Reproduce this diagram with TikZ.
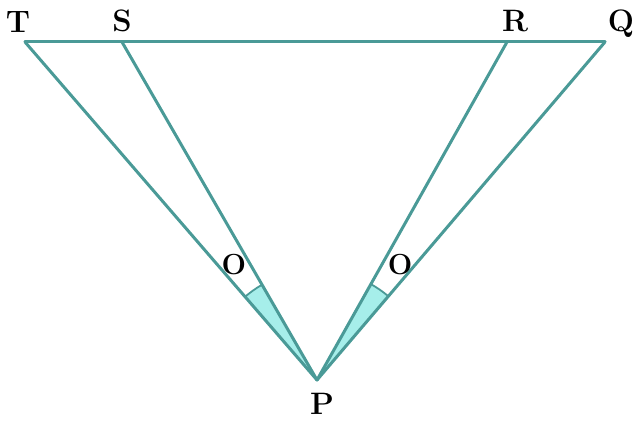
\documentclass[tikz,border=0pt]{standalone}
\usetikzlibrary{calc}
\begin{document}
\begin{tikzpicture}[x=1pt,y=-1pt,
  seg/.style={draw=linecol,line width=3pt,line cap=round},
  lab/.style={font=\bfseries\fontsize{31}{31}\selectfont,text=black,inner sep=0pt},
  olab/.style={font=\bfseries\fontsize{29}{29}\selectfont,text=black,inner sep=0pt},
  anglemark/.style={draw=linecol,line width=1.8pt}]
\definecolor{linecol}{HTML}{4A9A97}
\definecolor{fillcol}{HTML}{A6EEEA}
\useasboundingbox (0,0) rectangle (635,425);
\coordinate (P) at (317,380);
\coordinate (T) at (25,42);
\coordinate (S) at (122,42);
\coordinate (R) at (507,42);
\coordinate (Q) at (605,42);
% angle sectors
\fill[fillcol] (P) -- ($(P)+(229.2:110)$) arc[start angle=229.2,end angle=240,radius=110] -- cycle;
\fill[fillcol] (P) -- ($(P)+(299.3:110)$) arc[start angle=299.3,end angle=310.4,radius=110] -- cycle;
\draw[anglemark] ($(P)+(229.2:110)$) arc[start angle=229.2,end angle=240,radius=110];
\draw[anglemark] ($(P)+(299.3:110)$) arc[start angle=299.3,end angle=310.4,radius=110];
% segments
\draw[seg] (T) -- (Q);
\draw[seg] (P) -- (T);
\draw[seg] (P) -- (S);
\draw[seg] (P) -- (R);
\draw[seg] (P) -- (Q);
% labels
\node[lab] (lT) at (18,22) {T};
\node[lab] (lS) at (122,21) {S};
\node[lab] (lR) at (515,21) {R};
\node[lab] (lQ) at (621,24) {Q};
\node[lab] (lP) at (322,404) {P};
\node[olab] (o1) at (234,265) {O};
\node[olab] (o2) at (400,265) {O};
\end{tikzpicture}
\end{document}
